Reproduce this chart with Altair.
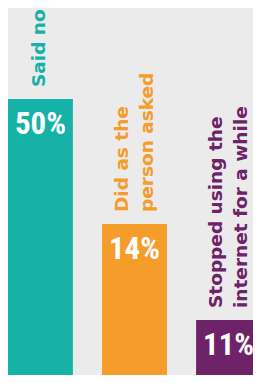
import altair as alt
import pandas as pd

# Data
categories = ["Said no", "Did as the person asked", "Stopped using the internet for a while"]
label_text = ["Said no", "Did as the\nperson asked", "Stopped using the\ninternet for a while"]
label_lines = [1, 2, 2]
percent = [50, 14, 11]
# visual bar heights as drawn in the infographic (not to scale with the percentages)
bar_height = [284, 159, 63]
colors = ["#16b2a8", "#f59c2a", "#6e2268"]

df = pd.DataFrame({
    "cat": categories,
    "label": label_text,
    "lines": label_lines,
    "pct": percent,
    "h": bar_height,
})

x = alt.X("cat:N", sort=categories, axis=None,
          scale=alt.Scale(paddingInner=0.31, paddingOuter=0, range=[0, 253]))
y = alt.Y("h:Q", axis=None,
          scale=alt.Scale(domain=[0, 375], nice=False, zero=True, range=[375, 0]))
color = alt.Color("cat:N", scale=alt.Scale(domain=categories, range=colors), legend=None)

base = alt.Chart(df).encode(x=x, y=y)

bars = base.mark_bar(cornerRadius=0, clip=True).encode(color=color)

values = base.transform_calculate(txt="datum.pct + '%'").mark_text(
    font="Roboto Condensed, DejaVu Sans Condensed, Roboto", fontWeight="bold", fontSize=31,
    color="white", baseline="alphabetic", align="center", dy=35
).encode(text="txt:N")

label_style = dict(font="DejaVu Sans", fontWeight="bold", fontSize=18.5, angle=270,
                   align="left", baseline="middle", dx=12, lineBreak="\n", lineHeight=25)

labels1 = base.transform_filter("datum.lines == 1").mark_text(
    dy=-1, **label_style
).encode(text="label:N", color=color)

labels2 = base.transform_filter("datum.lines == 2").mark_text(
    dy=-13, **label_style
).encode(text="label:N", color=color)

chart = alt.layer(bars, values, labels1, labels2).properties(
    width=245, height=367, background="#ebebeb", padding=0,
    autosize=alt.AutoSizeParams(type="none")
).configure_view(stroke=None)

chart.save("out.html", embed_options={"renderer": "svg", "actions": False})
